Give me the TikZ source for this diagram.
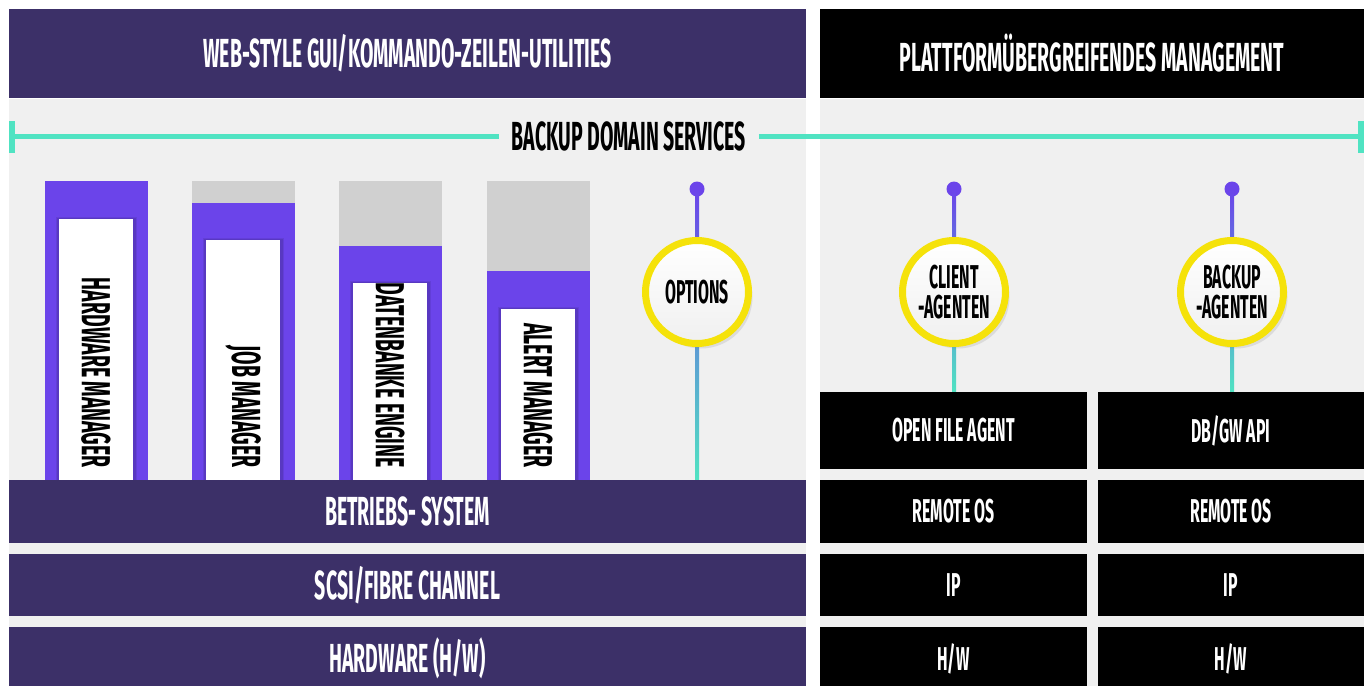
\documentclass[tikz,border=0pt]{standalone}
\usepackage{fontspec}
\newfontfamily\cond[FakeStretch=0.48]{Fira Sans}
\usetikzlibrary{shadows,calc}
\definecolor{dpurple}{HTML}{3C3068}
\definecolor{bpurple}{HTML}{6B44EA}
\definecolor{lgrey}{HTML}{F0F0F0}
\definecolor{mgrey}{HTML}{D0D0D0}
\definecolor{mint}{HTML}{50E3C2}
\definecolor{ylw}{HTML}{F5E20A}
\tikzset{
  hdrtxt/.style={font=\cond\bfseries\fontsize{40.6}{44}\selectfont},
  header/.style={hdrtxt, text=white, inner sep=0, minimum height=89pt},
  layer/.style={hdrtxt, text=white, fill=dpurple, inner sep=0},
  blk/.style={font=\cond\bfseries\fontsize{33}{36}\selectfont, text=white, fill=black, inner sep=0},
  spine/.style={hdrtxt, text=black, rotate=-90, anchor=east, inner sep=0},
  ring/.style={circle, draw=ylw, line width=7pt, top color=white, bottom color=black!6,
    minimum size=103pt, inner sep=0, align=center,
    font=\cond\bfseries\fontsize{33}{30}\selectfont,
    drop shadow={shadow xshift=4pt, shadow yshift=-5pt, opacity=0.18}},
  dotn/.style={circle, fill=bpurple, minimum size=15pt, inner sep=0},
  capbar/.style={fill=mint},
}
\begin{document}
\begin{tikzpicture}[x=1pt,y=-1pt]
\useasboundingbox (0,0) rectangle (1368,686);
\fill[white] (0,0) rectangle (1368,686);
% panels
\fill[lgrey] (9,99) rectangle (806,686);
\fill[lgrey] (820,99) rectangle (1364,686);
% headers
\node[header, fill=dpurple, minimum width=797pt] (hl) at (407.5,53.5) {WEB-STYLE GUI/KOMMANDO-ZEILEN-UTILITIES};
\node[header, fill=black, minimum width=544pt] (hr) at (1092,53.5) {PLATTFORMÜBERGREIFENDES MANAGEMENT};
% backup domain services line
\node[hdrtxt, text=black, inner xsep=12.5pt, inner ysep=0] (bds) at (629,136.5) {BACKUP DOMAIN SERVICES};
\coordinate (capL) at (9,136.5);
\coordinate (capR) at (1364,136.5);
\fill[capbar] (9,121) rectangle (15,153);
\fill[capbar] (1358,121) rectangle (1364,153);
\draw[mint, line width=5pt] (capL) -- (bds.west);
\draw[mint, line width=5pt] (bds.east) -- (capR);
% binders
\foreach \x/\g/\w/\t/\n in {45/181/219/HARDWARE MANAGER/b1, 192/203/240/JOB MANAGER/b2, 339/246/283/DATENBANKE ENGINE/b3, 487/271/309/ALERT MANAGER/b4}{
  \fill[mgrey] (\x,181) rectangle (\x+103,\g);
  \fill[bpurple] (\x,\g) rectangle (\x+103,480);
  \fill[black, opacity=0.10] (\x+12,\w-1) rectangle (\x+91,480);
  \fill[black, opacity=0.08] (\x+11,\w-2) rectangle (\x+92,480);
  \fill[white] (\x+14,\w) rectangle (\x+88,480);
  \node[spine] (\n) at (\x+51,468) {\t};
}
% connectors
\node[dotn] (d1) at (697,189) {};
\node[dotn] (d2) at (954,189) {};
\node[dotn] (d3) at (1232,189) {};
\coordinate (e1) at (697,480);
\coordinate (e2) at (954,392);
\coordinate (e3) at (1232,392);
\foreach \i in {1,2,3}{
  \shade[top color=bpurple, bottom color=mint] ($(d\i.center)+(-2,0)$) rectangle ($(e\i)+(2,0)$);
}
% circles
\node[ring] (opt) at (697,292) {OPTIONS};
\node[ring] (cli) at (954,292) {CLIENT\\-AGENTEN};
\node[ring] (bak) at (1232,292) {BACKUP\\-AGENTEN};
% left layers
\node[layer, minimum width=797pt, minimum height=63pt] (os) at (407.5,511.5) {BETRIEBS- SYSTEM};
\node[layer, minimum width=797pt, minimum height=62pt] (scsi) at (407.5,585) {SCSI/FIBRE CHANNEL};
\fill[dpurple] (9,627) rectangle (806,686);
\node[hdrtxt, text=white, inner sep=0] (hw) at (407.5,658) {HARDWARE (H/W)};
% right blocks
\node[blk, minimum width=267pt, minimum height=77pt] (ofa) at (953.5,430.5) {OPEN FILE AGENT};
\node[blk, minimum width=266pt, minimum height=77pt] (dbgw) at (1231,430.5) {DB/GW API};
\node[blk, minimum width=267pt, minimum height=63pt] (ros1) at (953.5,511.5) {REMOTE OS};
\node[blk, minimum width=266pt, minimum height=63pt] (ros2) at (1231,511.5) {REMOTE OS};
\node[blk, minimum width=267pt, minimum height=62pt] (ip1) at (953.5,585) {IP};
\node[blk, minimum width=266pt, minimum height=62pt] (ip2) at (1231,585) {IP};
\fill[black] (820,627) rectangle (1087,686);
\fill[black] (1098,627) rectangle (1364,686);
\node[blk, fill=none] (hw1) at (953.5,659) {H/W};
\node[blk, fill=none] (hw2) at (1231,659) {H/W};
\end{tikzpicture}
\end{document}
